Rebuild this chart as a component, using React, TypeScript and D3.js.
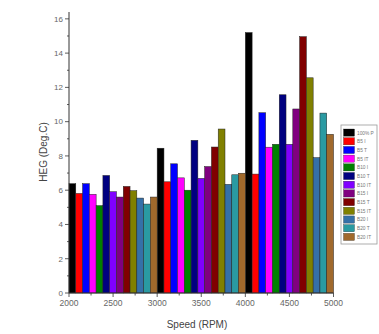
import React from "react";
import * as d3 from "d3";

const speeds = [2000, 3000, 4000];
const seriesNames = ["100% P", "B5 I", "B5 T", "B5 IT", "B10 I", "B10 T", "B10 IT", "B15 I", "B15 T", "B15 IT", "B20 I", "B20 T", "B20 IT"];
const seriesColors = ["#000000", "#ff0000", "#0000ff", "#ff00ff", "#008000", "#000080", "#8000ff", "#800080", "#800000", "#808000", "#3570a8", "#2a9aa2", "#a0692c"];
// values per series: [2000, 3000, 4000]
const p100 = [6.38, 8.45, 15.2];
const b5i = [5.81, 6.49, 6.94];
const b5t = [6.38, 7.54, 10.52];
const b5it = [5.76, 6.72, 8.51];
const b10i = [5.1, 6.0, 8.68];
const b10t = [6.86, 8.91, 11.57];
const b10it = [5.91, 6.69, 8.68];
const b15i = [5.6, 7.38, 10.74];
const b15t = [6.22, 8.52, 14.96];
const b15it = [5.97, 9.57, 12.56];
const b20i = [5.54, 6.34, 7.9];
const b20t = [5.19, 6.9, 10.5];
const b20it = [5.6, 6.99, 9.26];
const seriesValues = [p100, b5i, b5t, b5it, b10i, b10t, b10it, b15i, b15t, b15it, b20i, b20t, b20it];
const xTicks = [2000, 2500, 3000, 3500, 4000, 4500, 5000];
const yTicks = [0, 2, 4, 6, 8, 10, 12, 14, 16];

export default function App() {
  const W = 379, H = 334;
  const x = d3.scaleLinear().domain([2000, 5000]).range([69, 333.5]);
  const y = d3.scaleLinear().domain([0, 16.4]).range([293, 12]);
  const inner = d3.scaleBand<number>().domain(d3.range(seriesNames.length)).range([0, 1000]).padding(0);
  const xMinor = d3.range(2000, 5001, 250);
  const yMinor = d3.range(0, 16.01, 1);
  const font = "'Liberation Sans', Arial, sans-serif";
  const legX = 341, legY = 125, legW = 36, legH = 119;
  const rowH = (legH - 6) / seriesNames.length;
  return (
    <svg width={W} height={H} style={{ position: "absolute", left: 0, top: 0, background: "#fff" }}>
      <g>
        {seriesValues.map((vals, si) =>
          vals.map((v, gi) => {
            const x0 = x(speeds[gi] + (inner(si) as number));
            const x1 = x(speeds[gi] + (inner(si) as number) + inner.bandwidth());
            return (
              <rect key={`${si}-${gi}`} x={x0} y={y(v)} width={x1 - x0} height={y(0) - y(v)}
                fill={seriesColors[si]} stroke="#222" strokeWidth={0.5} />
            );
          })
        )}
      </g>
      {/* axes */}
      <line x1={x(2000)} x2={x(2000)} y1={y(16.4)} y2={y(0)} stroke="#333" strokeWidth={1} />
      <line x1={x(2000)} x2={x(5000)} y1={y(0)} y2={y(0)} stroke="#333" strokeWidth={1} />
      {yMinor.map((t) => (
        <line key={"ym" + t} x1={x(2000)} x2={x(2000) - (t % 2 === 0 ? 4 : 2)} y1={y(t)} y2={y(t)} stroke="#333" strokeWidth={0.8} />
      ))}
      {yTicks.map((t) => (
        <text key={"yt" + t} x={x(2000) - 6} y={y(t)} dy="0.35em" textAnchor="end" fontSize={8} fill="#666" fontFamily={font}>{t}</text>
      ))}
      {xMinor.map((t) => (
        <line key={"xm" + t} x1={x(t)} x2={x(t)} y1={y(0)} y2={y(0) + (t % 500 === 0 ? 4 : 2.5)} stroke="#333" strokeWidth={0.8} />
      ))}
      {xTicks.map((t) => (
        <text key={"xt" + t} x={x(t)} y={y(0) + 13} textAnchor="middle" fontSize={8.5} fill="#666" fontFamily={font}>{t}</text>
      ))}
      <text x={197} y={328} textAnchor="middle" fontSize={10} fill="#444" fontFamily={font}>Speed (RPM)</text>
      <text transform={`translate(47,152) rotate(-90)`} textAnchor="middle" fontSize={10} fill="#444" fontFamily={font}>HEG (Deg.C)</text>
      {/* legend */}
      <rect x={legX} y={legY} width={legW} height={legH} fill="#fff" stroke="#999" strokeWidth={0.8} />
      {seriesNames.map((n, i) => (
        <g key={n}>
          <rect x={legX + 2.5} y={legY + 4 + i * rowH} width={11} height={rowH - 1.5} fill={seriesColors[i]} stroke="#222" strokeWidth={0.3} />
          <text x={legX + 16} y={legY + 4 + i * rowH + rowH / 2 - 0.5} dy="0.35em" fontSize={4.8} fill="#777" fontFamily={font}>{n}</text>
        </g>
      ))}
    </svg>
  );
}
